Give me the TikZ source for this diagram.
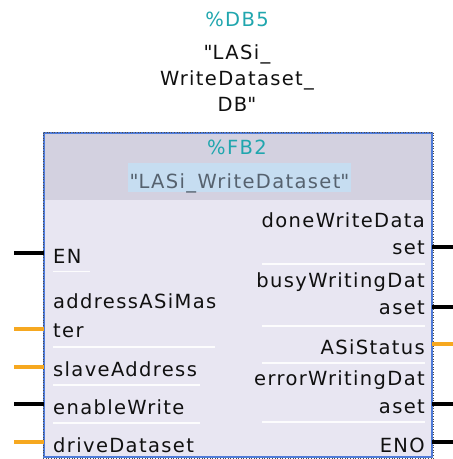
\documentclass[tikz,border=0pt]{standalone}
\usepackage{fontspec}
\setmainfont[LetterSpace=7,Ligatures=NoCommon]{DejaVu Sans}
\definecolor{tealc}{HTML}{20A6AE}
\definecolor{hdr}{HTML}{D3D1E0}
\definecolor{bodyc}{HTML}{E8E6F2}
\definecolor{bord}{HTML}{4F7BD8}
\definecolor{hil}{HTML}{C6DDF1}
\definecolor{orangepin}{HTML}{F6A820}
\definecolor{hltext}{HTML}{56626F}
\definecolor{txt}{HTML}{101010}
\tikzset{
  lbl/.style={inner sep=0pt, text=txt, font=\fontsize{19.5}{24}\selectfont},
  lblL/.style={lbl, anchor=base west},
  lblR/.style={lbl, anchor=base east},
  lblC/.style={lbl, anchor=base},
  pinb/.style={line width=3.2pt, black},
  pino/.style={line width=3.2pt, orangepin},
  sep/.style={line width=1.2pt, white, opacity=0.9},
}
\begin{document}
\begin{tikzpicture}[x=1pt,y=-1pt]
\useasboundingbox (0,0) rectangle (453,459);
% block
\node[draw=none, fill=bodyc, minimum width=388pt, minimum height=324pt, inner sep=0pt] (fb) at (238,295) {};
\fill[hdr] (44,133) rectangle (432,200);
\draw[bord, line width=1.6pt] (fb.south west) rectangle (fb.north east);
\draw[black!70, line width=0.6pt, dotted] ([xshift=-1pt,yshift=-1pt]fb.south west) rectangle ([xshift=1pt,yshift=1pt]fb.north east);
% titles
\node[lblC, text=tealc] (db) at (237,26) {\%DB5};
\node[lblC] (db1) at (237,59) {\textquotedbl LASi\_};
\node[lblC] (db2) at (237,85) {WriteDataset\_};
\node[lblC] (db3) at (237,111) {DB\textquotedbl};
\node[lblC, text=tealc] (fbn) at (237,154) {\%FB2};
\fill[hil] (128,163) rectangle (351,192);
\node[lblC, text=hltext] (fbname) at (239.5,188) {\textquotedbl LASi\_WriteDataset\textquotedbl};
% separators
\draw[sep] (53,271.5) -- (90,271.5);
\draw[sep] (53,347) -- (215,347);
\draw[sep] (53,385) -- (200,385);
\draw[sep] (53,423) -- (200,423);
\draw[sep] (262,264) -- (425,264);
\draw[sep] (262,326) -- (425,326);
\draw[sep] (262,363) -- (425,363);
\draw[sep] (262,422) -- (425,422);
% left labels
\node[lblL] (lEN) at (53,263) {EN};
\node[lblL] (lAddr1) at (53,308) {addressASiMas};
\node[lblL] (lAddr2) at (53,337) {ter};
\node[lblL] (lSlave) at (53,376) {slaveAddress};
\node[lblL] (lEnW) at (53,414) {enableWrite};
\node[lblL] (lDrive) at (53,452) {driveDataset};
% right labels
\node[lblR] (rDone1) at (425,227) {doneWriteData};
\node[lblR] (rDone2) at (425,254) {set};
\node[lblR] (rBusy1) at (425,287) {busyWritingDat};
\node[lblR] (rBusy2) at (425,314) {aset};
\node[lblR] (rStat) at (425,354) {ASiStatus};
\node[lblR] (rErr1) at (425,385) {errorWritingDat};
\node[lblR] (rErr2) at (425,413) {aset};
\node[lblR] (rENO) at (425,452) {ENO};
% pins
\coordinate (pEN) at (14,253);
\coordinate (pAddr) at (14,329);
\coordinate (pSlave) at (14,367);
\coordinate (pEnW) at (14,404);
\coordinate (pDrive) at (14,442);
\coordinate (pDone) at (453,247);
\coordinate (pBusy) at (453,307);
\coordinate (pStat) at (453,344);
\coordinate (pErr) at (453,404);
\coordinate (pENO) at (453,442);
\draw[pinb] (pEN) -- (pEN -| fb.west);
\draw[pino] (pAddr) -- (pAddr -| fb.west);
\draw[pino] (pSlave) -- (pSlave -| fb.west);
\draw[pinb] (pEnW) -- (pEnW -| fb.west);
\draw[pino] (pDrive) -- (pDrive -| fb.west);
\draw[pinb] (pDone) -- (pDone -| fb.east);
\draw[pinb] (pBusy) -- (pBusy -| fb.east);
\draw[pino] (pStat) -- (pStat -| fb.east);
\draw[pinb] (pErr) -- (pErr -| fb.east);
\draw[pinb] (pENO) -- (pENO -| fb.east);
\end{tikzpicture}
\end{document}
